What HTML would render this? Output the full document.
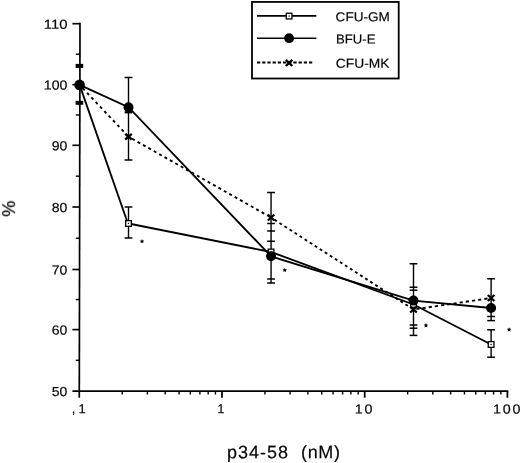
<!DOCTYPE html>
<html><head><meta charset="utf-8"><title>chart</title>
<style>
html,body{margin:0;padding:0;background:#fff;}
svg{display:block;}
text{font-family:"Liberation Sans",sans-serif;fill:#000;stroke:#000;stroke-width:0.18px;}
</style></head>
<body>
<svg width="520" height="463" viewBox="0 0 520 463">
<rect width="520" height="463" fill="#fff"/>
<g id="axes">
<line x1="80.00038043478261" y1="22.8" x2="79.28725543478261" y2="397.7" stroke="#000" stroke-width="1.7" />
<line x1="72.4" y1="391.0" x2="508.25" y2="391.0" stroke="#000" stroke-width="1.75" />
<line x1="72.4" y1="329.6" x2="79.41679347826087" y2="329.6" stroke="#000" stroke-width="1.65" />
<line x1="72.4" y1="269.5" x2="79.53111413043479" y2="269.5" stroke="#000" stroke-width="1.65" />
<line x1="72.4" y1="207.0" x2="79.65" y2="207.0" stroke="#000" stroke-width="1.65" />
<line x1="72.4" y1="145.3" x2="79.76736413043479" y2="145.3" stroke="#000" stroke-width="1.65" />
<line x1="72.4" y1="84.65" x2="79.88273097826087" y2="84.65" stroke="#000" stroke-width="1.65" />
<line x1="72.4" y1="23.7" x2="79.99866847826087" y2="23.7" stroke="#000" stroke-width="1.65" />
<line x1="75.8" y1="360.3" x2="79.35839673913044" y2="360.3" stroke="#000" stroke-width="1.4" />
<line x1="75.8" y1="299.55" x2="79.47395380434783" y2="299.55" stroke="#000" stroke-width="1.4" />
<line x1="75.8" y1="238.25" x2="79.5905570652174" y2="238.25" stroke="#000" stroke-width="1.4" />
<line x1="75.8" y1="176.15" x2="79.70868206521739" y2="176.15" stroke="#000" stroke-width="1.4" />
<line x1="75.8" y1="114.97500000000001" x2="79.82504755434783" y2="114.97500000000001" stroke="#000" stroke-width="1.4" />
<line x1="75.8" y1="54.175000000000004" x2="79.94069972826087" y2="54.175000000000004" stroke="#000" stroke-width="1.4" />
<line x1="222.0" y1="391.0" x2="222.0" y2="397.7" stroke="#000" stroke-width="1.75" />
<line x1="364.7" y1="391.0" x2="364.7" y2="397.7" stroke="#000" stroke-width="1.75" />
<line x1="507.4" y1="391.0" x2="507.4" y2="397.7" stroke="#000" stroke-width="1.75" />
<line x1="122.25698038125012" y1="391.0" x2="122.25698038125012" y2="394.5" stroke="#000" stroke-width="1.4" />
<line x1="147.38520304849584" y1="391.0" x2="147.38520304849584" y2="394.5" stroke="#000" stroke-width="1.4" />
<line x1="165.21396076250022" y1="391.0" x2="165.21396076250022" y2="394.5" stroke="#000" stroke-width="1.4" />
<line x1="179.0430196187499" y1="391.0" x2="179.0430196187499" y2="394.5" stroke="#000" stroke-width="1.4" />
<line x1="190.34218342974594" y1="391.0" x2="190.34218342974594" y2="394.5" stroke="#000" stroke-width="1.4" />
<line x1="199.89549031003443" y1="391.0" x2="199.89549031003443" y2="394.5" stroke="#000" stroke-width="1.4" />
<line x1="208.17094114375033" y1="391.0" x2="208.17094114375033" y2="394.5" stroke="#000" stroke-width="1.4" />
<line x1="215.47040609699167" y1="391.0" x2="215.47040609699167" y2="394.5" stroke="#000" stroke-width="1.4" />
<line x1="264.9569803812501" y1="391.0" x2="264.9569803812501" y2="394.5" stroke="#000" stroke-width="1.4" />
<line x1="290.0852030484958" y1="391.0" x2="290.0852030484958" y2="394.5" stroke="#000" stroke-width="1.4" />
<line x1="307.9139607625002" y1="391.0" x2="307.9139607625002" y2="394.5" stroke="#000" stroke-width="1.4" />
<line x1="321.7430196187499" y1="391.0" x2="321.7430196187499" y2="394.5" stroke="#000" stroke-width="1.4" />
<line x1="333.04218342974593" y1="391.0" x2="333.04218342974593" y2="394.5" stroke="#000" stroke-width="1.4" />
<line x1="342.59549031003445" y1="391.0" x2="342.59549031003445" y2="394.5" stroke="#000" stroke-width="1.4" />
<line x1="350.8709411437503" y1="391.0" x2="350.8709411437503" y2="394.5" stroke="#000" stroke-width="1.4" />
<line x1="358.17040609699166" y1="391.0" x2="358.17040609699166" y2="394.5" stroke="#000" stroke-width="1.4" />
<line x1="407.6569803812501" y1="391.0" x2="407.6569803812501" y2="394.5" stroke="#000" stroke-width="1.4" />
<line x1="432.7852030484958" y1="391.0" x2="432.7852030484958" y2="394.5" stroke="#000" stroke-width="1.4" />
<line x1="450.6139607625002" y1="391.0" x2="450.6139607625002" y2="394.5" stroke="#000" stroke-width="1.4" />
<line x1="464.4430196187499" y1="391.0" x2="464.4430196187499" y2="394.5" stroke="#000" stroke-width="1.4" />
<line x1="475.7421834297459" y1="391.0" x2="475.7421834297459" y2="394.5" stroke="#000" stroke-width="1.4" />
<line x1="485.29549031003444" y1="391.0" x2="485.29549031003444" y2="394.5" stroke="#000" stroke-width="1.4" />
<line x1="493.57094114375036" y1="391.0" x2="493.57094114375036" y2="394.5" stroke="#000" stroke-width="1.4" />
<line x1="500.87040609699164" y1="391.0" x2="500.87040609699164" y2="394.5" stroke="#000" stroke-width="1.4" />
</g>
<g id="errbars">
<line x1="75.6" y1="65.9" x2="83.2" y2="65.9" stroke="#000" stroke-width="4.0" />
<line x1="75.6" y1="102.8" x2="83.2" y2="102.8" stroke="#000" stroke-width="4.0" />
<line x1="128.5" y1="77.5" x2="128.5" y2="160" stroke="#000" stroke-width="1.4" />
<line x1="124.6" y1="77.5" x2="132.4" y2="77.5" stroke="#000" stroke-width="1.5" />
<line x1="124.6" y1="160" x2="132.4" y2="160" stroke="#000" stroke-width="1.5" />
<line x1="124.7" y1="112.3" x2="132.3" y2="112.3" stroke="#000" stroke-width="2.2" />
<line x1="128.5" y1="207" x2="128.5" y2="238" stroke="#000" stroke-width="1.4" />
<line x1="124.6" y1="207" x2="132.4" y2="207" stroke="#000" stroke-width="1.5" />
<line x1="124.6" y1="238" x2="132.4" y2="238" stroke="#000" stroke-width="1.5" />
<line x1="271.05" y1="192.5" x2="271.05" y2="283" stroke="#000" stroke-width="1.4" />
<line x1="267.15000000000003" y1="192.5" x2="274.95" y2="192.5" stroke="#000" stroke-width="1.5" />
<line x1="267.15000000000003" y1="223.5" x2="274.95" y2="223.5" stroke="#000" stroke-width="1.5" />
<line x1="267.15000000000003" y1="231" x2="274.95" y2="231" stroke="#000" stroke-width="1.5" />
<line x1="267.15000000000003" y1="241.25" x2="274.95" y2="241.25" stroke="#000" stroke-width="1.5" />
<line x1="267.15000000000003" y1="279" x2="274.95" y2="279" stroke="#000" stroke-width="1.5" />
<line x1="267.15000000000003" y1="283" x2="274.95" y2="283" stroke="#000" stroke-width="1.5" />
<line x1="413.5" y1="263.75" x2="413.5" y2="335.4" stroke="#000" stroke-width="1.4" />
<line x1="409.6" y1="263.75" x2="417.4" y2="263.75" stroke="#000" stroke-width="1.5" />
<line x1="409.6" y1="287.25" x2="417.4" y2="287.25" stroke="#000" stroke-width="1.5" />
<line x1="409.6" y1="290.2" x2="417.4" y2="290.2" stroke="#000" stroke-width="1.5" />
<line x1="409.6" y1="325" x2="417.4" y2="325" stroke="#000" stroke-width="1.5" />
<line x1="409.6" y1="328.2" x2="417.4" y2="328.2" stroke="#000" stroke-width="1.5" />
<line x1="409.6" y1="335.4" x2="417.4" y2="335.4" stroke="#000" stroke-width="1.5" />
<line x1="491.1" y1="278.75" x2="491.1" y2="320.6" stroke="#000" stroke-width="1.4" />
<line x1="487.20000000000005" y1="278.75" x2="495.0" y2="278.75" stroke="#000" stroke-width="1.5" />
<line x1="487.20000000000005" y1="316.5" x2="495.0" y2="316.5" stroke="#000" stroke-width="1.5" />
<line x1="487.20000000000005" y1="320.6" x2="495.0" y2="320.6" stroke="#000" stroke-width="1.5" />
<line x1="491.1" y1="329.75" x2="491.1" y2="357.25" stroke="#000" stroke-width="1.4" />
<line x1="487.20000000000005" y1="329.75" x2="495.0" y2="329.75" stroke="#000" stroke-width="1.5" />
<line x1="487.20000000000005" y1="357.25" x2="495.0" y2="357.25" stroke="#000" stroke-width="1.5" />
</g>
<g id="lines">
<line x1="79.6" y1="84.9" x2="127.9" y2="223.5" stroke="#000" stroke-width="1.85" />
<polyline points="128.5,223.5 271.05,252.0 413.5,304.5 491.1,344.5" fill="none" stroke="#000" stroke-width="1.85" />
<polyline points="79.6,84.9 128.5,107.2 271.05,256.3 413.5,300.6 491.1,308.0" fill="none" stroke="#000" stroke-width="1.9" />
<line x1="79.6" y1="84.9" x2="128.5" y2="136.7" stroke="#000" stroke-width="1.9" stroke-dasharray="2.9 3.4" stroke-dashoffset="1.75"/>
<line x1="128.5" y1="136.7" x2="271.05" y2="217.5" stroke="#000" stroke-width="1.9" stroke-dasharray="3.0 3.2" stroke-dashoffset="2.0"/>
<line x1="271.05" y1="217.5" x2="413.5" y2="309.5" stroke="#000" stroke-width="1.9" stroke-dasharray="2.9 3.1" stroke-dashoffset="2.0"/>
<line x1="413.5" y1="309.5" x2="491.1" y2="298.0" stroke="#000" stroke-width="1.9" stroke-dasharray="3.2 3.05" stroke-dashoffset="3.4"/>
</g>
<g id="markers">
<rect x="125.65" y="220.65" width="5.7" height="5.7" fill="#fff" stroke="#000" stroke-width="1.3"/><rect x="127.9" y="222.9" width="1.2" height="1.2" fill="#000"/>
<rect x="268.2" y="249.15" width="5.7" height="5.7" fill="#fff" stroke="#000" stroke-width="1.3"/><rect x="270.45" y="251.4" width="1.2" height="1.2" fill="#000"/>
<rect x="410.65" y="301.65" width="5.7" height="5.7" fill="#fff" stroke="#000" stroke-width="1.3"/><rect x="412.9" y="303.9" width="1.2" height="1.2" fill="#000"/>
<rect x="488.25" y="341.65" width="5.7" height="5.7" fill="#fff" stroke="#000" stroke-width="1.3"/><rect x="490.5" y="343.9" width="1.2" height="1.2" fill="#000"/>
<path d="M125.2,133.89999999999998L131.8,139.5M125.2,139.5L131.8,133.89999999999998" stroke="#000" stroke-width="2.3" fill="none"/>
<path d="M267.75,214.5L274.35,220.5M267.75,220.5L274.35,214.5" stroke="#000" stroke-width="2.3" fill="none"/>
<path d="M410.2,306.5L416.8,312.5M410.2,312.5L416.8,306.5" stroke="#000" stroke-width="2.3" fill="none"/>
<path d="M487.8,295.0L494.40000000000003,301.0M487.8,301.0L494.40000000000003,295.0" stroke="#000" stroke-width="2.3" fill="none"/>
<circle cx="79.6" cy="84.9" r="5.3" fill="#000"/>
<circle cx="128.5" cy="107.2" r="5.0" fill="#000"/>
<circle cx="271.05" cy="256.3" r="5.0" fill="#000"/>
<circle cx="413.5" cy="300.6" r="5.0" fill="#000"/>
<circle cx="491.1" cy="308.0" r="5.0" fill="#000"/>
</g>
<g id="asterisks">
<polygon points="142.00,239.00 142.68,240.47 144.28,240.66 143.09,241.76 143.41,243.34 142.00,242.55 140.59,243.34 140.91,241.76 139.72,240.66 141.32,240.47" fill="#000"/>
<polygon points="284.75,267.70 285.43,269.17 287.03,269.36 285.84,270.46 286.16,272.04 284.75,271.25 283.34,272.04 283.66,270.46 282.47,269.36 284.07,269.17" fill="#000"/>
<polygon points="425.95,323.10 426.63,324.57 428.23,324.76 427.04,325.86 427.36,327.44 425.95,326.65 424.54,327.44 424.86,325.86 423.67,324.76 425.27,324.57" fill="#000"/>
<polygon points="509.15,327.20 509.83,328.67 511.43,328.86 510.24,329.96 510.56,331.54 509.15,330.75 507.74,331.54 508.06,329.96 506.87,328.86 508.47,328.67" fill="#000"/>
</g>
<g id="legend">
<rect x="252.0" y="1.95" width="146.7" height="76.55" fill="#fff" stroke="#000" stroke-width="1.8"/>
<line x1="257" y1="15.9" x2="316.3" y2="15.9" stroke="#000" stroke-width="1.6" />
<rect x="286.25" y="13.250000000000002" width="5.7" height="5.7" fill="#fff" stroke="#000" stroke-width="1.3"/><rect x="288.5" y="15.500000000000002" width="1.2" height="1.2" fill="#000"/>
<line x1="257" y1="38.2" x2="316.3" y2="38.2" stroke="#000" stroke-width="1.5" />
<circle cx="289.1" cy="38.2" r="4.9" fill="#000"/>
<line x1="257" y1="62.5" x2="313.9" y2="62.5" stroke="#000" stroke-width="1.8" stroke-dasharray="3.25 1.95"/>
<path d="M285.85,59.8L292.25,66.0M285.85,66.0L292.25,59.8" stroke="#000" stroke-width="2.4" fill="none"/>
</g>
<g id="labels" opacity="0.995">
<text transform="translate(335.6,21.3) rotate(0.04)" font-size="13" textLength="54.2" lengthAdjust="spacingAndGlyphs">CFU-GM</text>
<text transform="translate(336.0,43.4) rotate(0.04)" font-size="13" textLength="39.4" lengthAdjust="spacingAndGlyphs">BFU-E</text>
<text transform="translate(335.8,67.7) rotate(0.04)" font-size="13" textLength="53.6" lengthAdjust="spacingAndGlyphs">CFU-MK</text>
<text transform="translate(51.8,395.95) rotate(0.04)" font-size="13" textLength="15.6" lengthAdjust="spacingAndGlyphs">50</text>
<text transform="translate(51.8,334.55) rotate(0.04)" font-size="13" textLength="15.6" lengthAdjust="spacingAndGlyphs">60</text>
<text transform="translate(51.8,274.45) rotate(0.04)" font-size="13" textLength="15.6" lengthAdjust="spacingAndGlyphs">70</text>
<text transform="translate(51.8,211.95) rotate(0.04)" font-size="13" textLength="15.6" lengthAdjust="spacingAndGlyphs">80</text>
<text transform="translate(51.8,150.25) rotate(0.04)" font-size="13" textLength="15.6" lengthAdjust="spacingAndGlyphs">90</text>
<text transform="translate(43.8,89.6) rotate(0.04)" font-size="13" textLength="23.6" lengthAdjust="spacingAndGlyphs">100</text>
<text transform="translate(43.8,28.65) rotate(0.04)" font-size="13" textLength="23.6" lengthAdjust="spacingAndGlyphs">110</text>
<text transform="translate(71.8,413.3) rotate(0.04)" font-size="13" >,</text>
<text transform="translate(78.4,413.2) rotate(0.04)" font-size="13" >1</text>
<text transform="translate(217.2,413.2) rotate(0.04)" font-size="13" >1</text>
<text transform="translate(354.7,413.5) rotate(0.04)" font-size="13" letter-spacing="1.6" textLength="19.4" lengthAdjust="spacingAndGlyphs">10</text>
<text transform="translate(493.1,413.6) rotate(0.04)" font-size="13" letter-spacing="1.6" textLength="29.1" lengthAdjust="spacingAndGlyphs">100</text>
<text transform="translate(226.9,458.3) rotate(0.04)" font-size="18" letter-spacing="1.0">p34-58</text>
<text transform="translate(301.0,458.3) rotate(0.04)" font-size="18" letter-spacing="0.65">(nM)</text>
<text transform="translate(15.1,216.7) rotate(-90)" font-size="18">%</text>
</g>
</svg>
</body></html>
